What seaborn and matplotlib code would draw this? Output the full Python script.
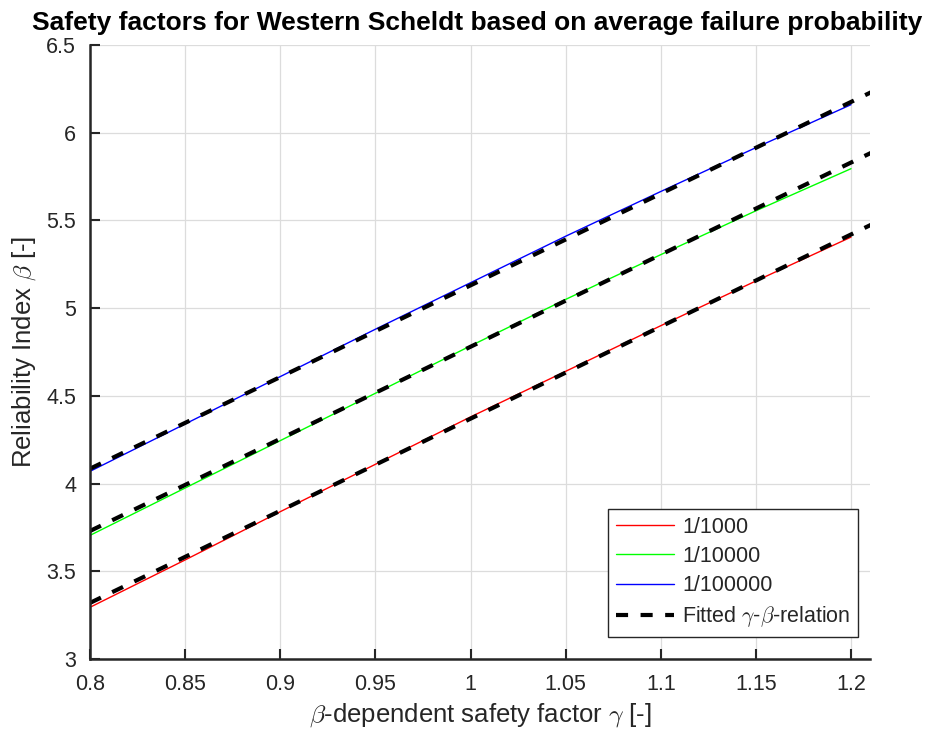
import numpy as np
import pandas as pd
import matplotlib
matplotlib.use("Agg")
import matplotlib.pyplot as plt
import seaborn as sns
from matplotlib.ticker import FuncFormatter, MultipleLocator
from matplotlib.lines import Line2D

# Data
gamma = [0.8, 0.85, 0.9, 0.95, 1.0, 1.05, 1.1, 1.15, 1.2]
beta_1000 = [3.295, 3.565, 3.84, 4.11, 4.38, 4.64, 4.90, 5.155, 5.405]
beta_10000 = [3.705, 3.975, 4.245, 4.515, 4.785, 5.05, 5.305, 5.555, 5.795]
beta_100000 = [4.07, 4.34, 4.61, 4.88, 5.145, 5.41, 5.665, 5.915, 6.16]

gamma_fit = [0.8, 1.0, 1.22]
fit_1000 = [3.32, 4.37, 5.525]
fit_10000 = [3.73, 4.78, 5.935]
fit_100000 = [4.085, 5.13, 6.28]

labels = ["1/1000", "1/10000", "1/100000"]
colors = ["#ff0000", "#00ff00", "#0000ff"]

sns.set_theme(style="white")
plt.rcParams['font.family'] = ['Liberation Sans', 'DejaVu Sans']
plt.rcParams['mathtext.fontset'] = 'cm'

fig = plt.figure(figsize=(9.35, 7.38), dpi=100)
ax = fig.add_axes([0.0963, 0.107, 0.8342, 0.832])

df = pd.DataFrame({
    "gamma": gamma * 3,
    "beta": beta_1000 + beta_10000 + beta_100000,
    "series": [labels[0]] * len(gamma) + [labels[1]] * len(gamma) + [labels[2]] * len(gamma),
})
sns.lineplot(data=df, x="gamma", y="beta", hue="series", palette=colors,
             linewidth=1.0, ax=ax, legend=False, estimator=None, sort=False)

dash = (0, (2.9, 3.0))
dfit = pd.DataFrame({
    "gamma": gamma_fit * 3,
    "beta": fit_1000 + fit_10000 + fit_100000,
    "series": ["a"] * 3 + ["b"] * 3 + ["c"] * 3,
})
sns.lineplot(data=dfit, x="gamma", y="beta", units="series", estimator=None,
             color="black", linewidth=3.0, linestyle=dash, ax=ax, legend=False)

ax.set_xlim(0.8, 1.21)
ax.set_ylim(3, 6.5)
ax.xaxis.set_major_locator(MultipleLocator(0.05))
ax.yaxis.set_major_locator(MultipleLocator(0.5))
fmt = FuncFormatter(lambda v, p: "%g" % round(v, 4))
ax.xaxis.set_major_formatter(fmt)
ax.yaxis.set_major_formatter(fmt)

ax.grid(True, color="#dcdcdc", linewidth=0.9)
ax.set_axisbelow(True)
for s in ["top", "right"]:
    ax.spines[s].set_visible(False)
for s in ["left", "bottom"]:
    ax.spines[s].set_color("#262626")
    ax.spines[s].set_linewidth(1.8)
ax.tick_params(direction="in", length=7, width=1.5, colors="#262626",
               labelsize=15.5, left=True, bottom=True)
ax.tick_params(axis="x", pad=11)
ax.tick_params(axis="y", pad=10)

ax.set_xlabel(r"$\beta$-dependent safety factor $\gamma$ [-]", fontsize=18.5, color="#262626", labelpad=4)
ax.set_ylabel(r"Reliability Index $\beta$ [-]", fontsize=18.5, color="#262626", labelpad=6)
fig.text(0.51, 0.959, "Safety factors for Western Scheldt based on average failure probability",
         fontsize=19, fontweight="bold", color="black", ha="center", va="baseline")

handles = [Line2D([0], [0], color=c, lw=1.0) for c in colors]
handles.append(Line2D([0], [0], color="black", lw=3.0, linestyle=dash))
leg = ax.legend(handles, labels + [r"Fitted $\gamma$-$\beta$-relation"], loc="lower right",
                bbox_to_anchor=(0.985, 0.036), fontsize=15.5, frameon=True, fancybox=False,
                framealpha=1, edgecolor="#262626", handlelength=2.7, handletextpad=0.4,
                borderpad=0.35, labelspacing=0.38, borderaxespad=0)
leg.get_frame().set_linewidth(1.0)

fig.savefig("out.png", dpi=100)
